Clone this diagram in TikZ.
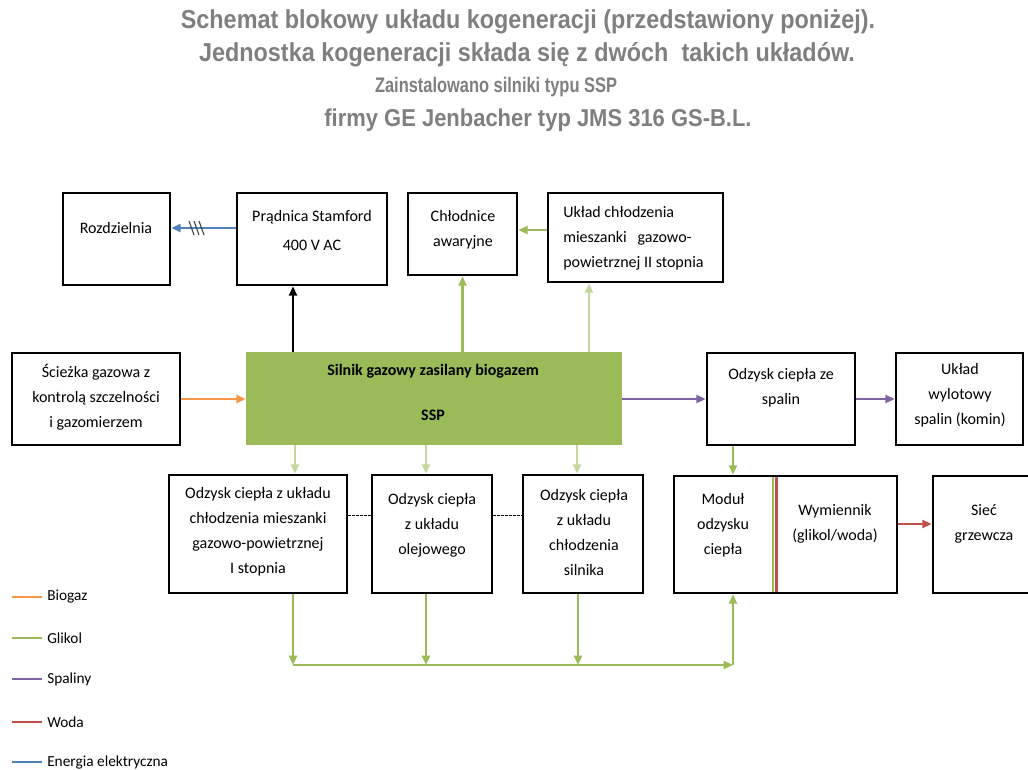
\documentclass[tikz,border=0pt]{standalone}
\usepackage{fontspec}
\setmainfont{Carlito}
\newfontfamily\titlefont[FakeStretch=0.9]{Liberation Sans}
\newfontfamily\narrowfont[FakeStretch=0.78]{Liberation Sans}
\usetikzlibrary{arrows.meta,fit,positioning}
\definecolor{biogaz}{HTML}{F79646}
\definecolor{glikol}{HTML}{9BBB59}
\definecolor{glikollight}{HTML}{C3D69B}
\definecolor{spaliny}{HTML}{8064A2}
\definecolor{woda}{HTML}{C0504D}
\definecolor{energia}{HTML}{4F81BD}
\definecolor{titlegray}{HTML}{7F7F7F}

\begin{document}
\begin{tikzpicture}[x=0.75pt,y=-0.75pt,
  box/.style={draw,line width=2pt,inner sep=0pt},
  engine/.style={fill=glikol,inner sep=0pt},
  txt/.style={font=\fontsize{12}{18.75}\selectfont,align=center,inner sep=0pt},
  legtxt/.style={font=\fontsize{11.5}{14}\selectfont,anchor=west,inner sep=0pt},
  bigtitle/.style={font=\titlefont\bfseries\fontsize{19.5}{24}\selectfont,text=titlegray,inner sep=0pt},
  flow/.style={line width=1.6pt,-{Triangle[length=7pt,width=6pt]}},
  legline/.style={line width=2pt}]
\useasboundingbox (0,0) rectangle (1028,769);

\node[bigtitle] (t1) at (528,22) {Schemat blokowy układu kogeneracji (przedstawiony poniżej).};
\node[bigtitle] (t2) at (527,55) {Jednostka kogeneracji składa się z dwóch~ takich układów.};
\node[bigtitle, font=\narrowfont\bfseries\fontsize{15.8}{19}\selectfont] (t3) at (496,87) {Zainstalowano silniki typu SSP};
\node[bigtitle, font=\titlefont\bfseries\fontsize{18.3}{22}\selectfont] (t4) at (538,120) {firmy GE Jenbacher typ JMS 316 GS-B.L.};

\node[box, fit={(63,193) (170,285)}] (roz) {};
\node[txt] (rozt) at (116,228) {Rozdzielnia};
\node[box, fit={(237,193) (387,285)}] (prad) {};
\node[txt] (pradt) at (312,230) {Prądnica Stamford\\[3pt]400 V AC};
\node[box, fit={(408,193) (517,275)}] (chl) {};
\node[txt] (chlt) at (463,230) {Chłodnice\\awaryjne};
\node[box, fit={(548,193) (723,282)}] (ukl) {};
\node[txt, align=left, anchor=west] (uklt) at (563,238) {Układ chłodzenia\\mieszanki~~~gazowo-\\powietrznej II stopnia};

\node[box, fit={(12,353) (180,445)}] (gas) {};
\node[txt] (gast) at (96,397) {Ścieżka gazowa z\\kontrolą szczelności\\i gazomierzem};
\node[engine, fit={(246,352) (622,445)}] (ssp) {};
\node[txt, font=\fontsize{12}{18.75}\selectfont\bfseries] (sspt) at (433,392) {Silnik gazowy zasilany biogazem\\[15pt]SSP};
\node[box, fit={(707,353) (855,445)}] (spal) {};
\node[txt] (spalt) at (781,388) {Odzysk ciepła ze\\spalin};
\node[box, fit={(896,353) (1023,445)}] (wyl) {};
\node[txt] (wylt) at (960,395) {Układ\\wylotowy\\spalin (komin)};

\node[box, fit={(169,475) (347,593)}] (rec1) {};
\node[txt] (rec1t) at (258,532) {Odzysk ciepła z układu\\chłodzenia mieszanki\\gazowo-powietrznej\\I stopnia};
\node[box, fit={(372,475) (492,593)}] (rec2) {};
\node[txt] (rec2t) at (432,525) {Odzysk ciepła\\z układu\\olejowego};
\node[box, fit={(523,475) (643,593)}] (rec3) {};
\node[txt] (rec3t) at (584,532) {Odzysk ciepła\\z układu\\chłodzenia\\silnika};
\node[box, fit={(674,476) (897,593)}] (hx) {};
\node[txt] (modt) at (723,525) {Moduł\\odzysku\\ciepła};
\node[txt] (wymt) at (835,524) {Wymiennik\\(glikol/woda)};
\node[box, fit={(933,476) (1040,593)}] (siec) {};
\node[txt] (siect) at (984,524) {Sieć\\grzewcza};
\draw[glikol, line width=1.6pt] (773,477) -- (773,592);
\draw[woda, line width=1.6pt] (776.5,477) -- (776.5,592);

\coordinate (cpwr) at (293,0);
\coordinate (cgu) at (589,0);
\coordinate (c1) at (295,0);
\coordinate (c2) at (426,0);
\coordinate (c3) at (577,0);
\coordinate (d1) at (293,0);
\coordinate (d3) at (578,0);
\coordinate (cm) at (733,0);
\coordinate (bus) at (0,665);
\coordinate (dsh) at (0,515);

\draw[flow, energia] (prad.west |- rozt) -- (roz.east |- rozt);
\draw[line width=0.8pt, black!75] (189,221) -- (194,235);
\draw[line width=0.8pt, black!75] (194,221) -- (199,235);
\draw[line width=0.8pt, black!75] (199,221) -- (204,235);
\draw[flow, black, line width=2.2pt] (ssp.north -| cpwr) -- (prad.south -| cpwr);
\draw[flow, glikol] (ssp.north -| chl) -- (chl.south);
\draw[flow, glikol] (ukl.west |- chlt) -- (chl.east |- chlt);
\draw[flow, glikollight] (ssp.north -| cgu) -- (ukl.south -| cgu);
\draw[flow, biogaz] (gas.east) -- (ssp.west |- gas);
\draw[flow, spaliny] (ssp.east |- spal) -- (spal.west);
\draw[flow, spaliny] (spal.east) -- (wyl.west);
\draw[flow, glikol] (spal.south -| cm) -- (hx.north -| cm);
\draw[flow, glikollight] (ssp.south -| c1) -- (rec1.north -| c1);
\draw[flow, glikollight] (ssp.south -| c2) -- (rec2.north -| c2);
\draw[flow, glikollight] (ssp.south -| c3) -- (rec3.north -| c3);
\draw[line width=0.6pt, dash pattern=on 1.8pt off 1.2pt] (rec1.east |- dsh) -- (rec2.west |- dsh);
\draw[line width=0.6pt, dash pattern=on 1.8pt off 1.2pt] (rec2.east |- dsh) -- (rec3.west |- dsh);
\draw[flow, glikol] (rec1.south -| d1) -- (bus -| d1);
\draw[flow, glikol] (rec2.south -| c2) -- (bus -| c2);
\draw[flow, glikol] (rec3.south -| d3) -- (bus -| d3);
\draw[flow, glikol] (bus -| d1) -- (bus -| cm);
\draw[flow, glikol] (bus -| cm) -- (hx.south -| cm);
\draw[flow, woda] (hx.east |- wymt) -- (siec.west |- wymt);

\node[legtxt] (lbio) at (47,597) {Biogaz};
\node[legtxt] (lgli) at (47,638) {Glikol};
\node[legtxt] (lspa) at (47,679) {Spaliny};
\node[legtxt] (lwod) at (47,722) {Woda};
\node[legtxt] (lene) at (47,762) {Energia elektryczna};
\draw[legline, biogaz] ([xshift=-26.25pt]lbio.west) -- ([xshift=-3.75pt]lbio.west);
\draw[legline, glikol] ([xshift=-26.25pt]lgli.west) -- ([xshift=-3.75pt]lgli.west);
\draw[legline, spaliny] ([xshift=-26.25pt]lspa.west) -- ([xshift=-3.75pt]lspa.west);
\draw[legline, woda] ([xshift=-26.25pt]lwod.west) -- ([xshift=-3.75pt]lwod.west);
\draw[legline, energia] ([xshift=-26.25pt]lene.west) -- ([xshift=-3.75pt]lene.west);
\end{tikzpicture}
\end{document}
